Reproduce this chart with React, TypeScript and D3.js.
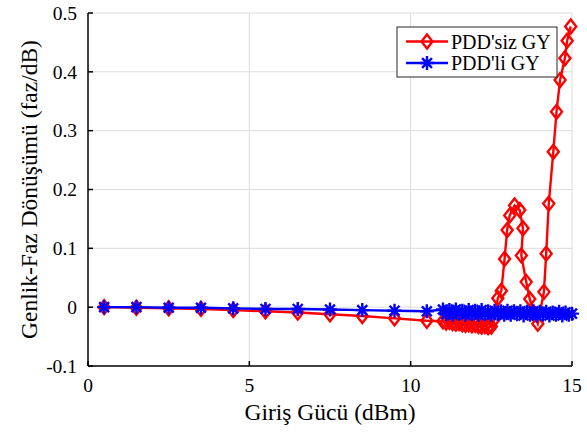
import React from "react";
import * as d3 from "d3";

// 1 dBm steps at low input power
const xCoarse = [0.5, 1.5, 2.5, 3.5, 4.5, 5.5, 6.5, 7.5, 8.5, 9.5, 10.5];
const redCoarse = [0.0, -0.001, -0.002, -0.003, -0.005, -0.007, -0.009, -0.012, -0.015, -0.019, -0.023];
const blueCoarse = [0.0, 0.0, -0.001, -0.001, -0.002, -0.003, -0.003, -0.004, -0.005, -0.006, -0.007];

// dense region, PDD'siz GY
const xRedDense = [
  11.0, 11.1, 11.2, 11.3, 11.4, 11.5, 11.6, 11.7, 11.8, 11.9, 12.0, 12.1, 12.2, 12.3, 12.4, 12.5,
  12.6, 12.7, 12.81, 12.91, 12.99, 13.07, 13.22, 13.38, 13.48, 13.43, 13.58, 13.69, 13.82, 13.94,
  14.13, 14.2, 14.28, 14.42, 14.52, 14.63, 14.78, 14.85, 14.96,
];
const redDense = [
  -0.024, -0.026, -0.025, -0.027, -0.028, -0.027, -0.029, -0.03, -0.029, -0.031, -0.03, -0.032, -0.033, -0.032, -0.034, -0.033,
  -0.02, 0.015, 0.028, 0.082, 0.131, 0.156, 0.173, 0.165, 0.134, 0.088, 0.043, 0.014, -0.01, -0.028,
  0.026, 0.091, 0.176, 0.264, 0.332, 0.386, 0.423, 0.453, 0.477,
];

// dense region, PDD'li GY
const xBlueDense = [
  11.0, 11.1, 11.2, 11.3, 11.4, 11.5, 11.6, 11.7, 11.8, 11.9, 12.0, 12.1, 12.2, 12.3, 12.4, 12.5,
  12.6, 12.7, 12.8, 12.9, 13.0, 13.1, 13.2, 13.3, 13.4, 13.5, 13.6, 13.7, 13.8, 13.9, 14.0, 14.1,
  14.2, 14.3, 14.4, 14.5, 14.6, 14.7, 14.8, 14.9, 15.0,
];
const blueDense = [
  -0.004, -0.012, -0.005, -0.013, -0.004, -0.011, -0.006, -0.013, -0.005, -0.012, -0.006, -0.013, -0.005, -0.012, -0.007, -0.013,
  -0.006, -0.012, -0.007, -0.013, -0.006, -0.013, -0.007, -0.012, -0.007, -0.014, -0.008, -0.013, -0.007, -0.014, -0.008, -0.013,
  -0.008, -0.014, -0.009, -0.013, -0.008, -0.014, -0.009, -0.013, -0.011,
];

const xTicks = [0, 5, 10, 15];
const yTicks = [-0.1, 0, 0.1, 0.2, 0.3, 0.4, 0.5];
const seriesNames = ["PDD'siz GY", "PDD'li GY"];
const colors = ["#ff0000", "#0000ff"];

const FONT = "Liberation Serif";

const left = 88;
const right = 572;
const top = 13;
const bottom = 366;

const x = d3.scaleLinear().domain([0, 15]).range([left, right]);
const y = d3.scaleLinear().domain([-0.1, 0.5]).range([bottom, top]);

const red = xCoarse.map((v, i) => [v, redCoarse[i]]).concat(xRedDense.map((v, i) => [v, redDense[i]]));
const blue = xCoarse.map((v, i) => [v, blueCoarse[i]]).concat(xBlueDense.map((v, i) => [v, blueDense[i]]));

const line = d3
  .line<number[]>()
  .x((d) => x(d[0]))
  .y((d) => y(d[1]));

const diamondPath = (cx: number, cy: number) =>
  `M${cx},${cy - 7}L${cx + 5.5},${cy}L${cx},${cy + 7}L${cx - 5.5},${cy}Z`;

const starPath = (cx: number, cy: number) => {
  const r = 7;
  const d = r * Math.SQRT1_2;
  return (
    `M${cx - r},${cy}H${cx + r}M${cx},${cy - r}V${cy + r}` +
    `M${cx - d},${cy - d}L${cx + d},${cy + d}M${cx - d},${cy + d}L${cx + d},${cy - d}`
  );
};

// plain hyphen for negatives, like the original
const fmtY = (v: number) => (v === 0 ? "0" : v.toFixed(1));

const App = () => {
  const sw = 2.4;
  return (
    <svg width={587} height={433} style={{ position: "absolute", left: 0, top: 0, background: "#fff", fontFamily: FONT }}>
      {/* grid */}
      <g stroke="#dcdcdc" strokeWidth={1}>
        {xTicks.slice(1).map((t) => (
          <line key={"gx" + t} x1={x(t)} x2={x(t)} y1={top} y2={bottom} />
        ))}
        {yTicks.slice(1).map((t) => (
          <line key={"gy" + t} x1={left} x2={right} y1={y(t)} y2={y(t)} />
        ))}
      </g>

      {/* series */}
      <path d={line(red) || ""} fill="none" stroke={colors[0]} strokeWidth={sw} />
      {red.map((d, i) => (
        <path key={"r" + i} d={diamondPath(x(d[0]), y(d[1]))} fill="none" stroke={colors[0]} strokeWidth={sw} />
      ))}
      <path d={line(blue) || ""} fill="none" stroke={colors[1]} strokeWidth={sw} />
      {blue.map((d, i) => (
        <path key={"b" + i} d={starPath(x(d[0]), y(d[1]))} fill="none" stroke={colors[1]} strokeWidth={sw} />
      ))}

      {/* axes */}
      <g stroke="#000" strokeWidth={1.5}>
        <line x1={left} x2={right} y1={bottom} y2={bottom} />
        <line x1={left} x2={left} y1={top} y2={bottom} />
        {xTicks.map((t) => (
          <line key={"tx" + t} x1={x(t)} x2={x(t)} y1={bottom} y2={bottom - 5} />
        ))}
        {yTicks.map((t) => (
          <line key={"ty" + t} x1={left} x2={left + 5} y1={y(t)} y2={y(t)} />
        ))}
      </g>
      {xTicks.map((t) => (
        <text key={"lx" + t} x={x(t)} y={bottom + 26} textAnchor="middle" style={{ fontFamily: FONT, fontSize: "19.5px" }}>
          {String(t)}
        </text>
      ))}
      {yTicks.map((t) => (
        <text key={"ly" + t} x={left - 11} y={y(t)} dy="0.35em" textAnchor="end" style={{ fontFamily: FONT, fontSize: "19.5px" }}>
          {fmtY(t)}
        </text>
      ))}

      <text x={x(7.5)} y={420} textAnchor="middle" style={{ fontFamily: FONT, fontSize: "23.5px" }}>
        Giriş Gücü (dBm)
      </text>
      <text
        transform={`translate(37,${y(0.2)}) rotate(-90)`}
        textAnchor="middle"
        style={{ fontFamily: FONT, fontSize: "23.5px" }}
      >
        Genlik-Faz Dönüşümü (faz/dB)
      </text>

      {/* legend */}
      <rect x={397} y={27} width={160} height={50} fill="#fff" stroke="#262626" strokeWidth={1} />
      {seriesNames.map((name, i) => {
        const cy = 41.5 + i * 21.5;
        return (
          <g key={name}>
            <line x1={406} x2={448} y1={cy} y2={cy} stroke={colors[i]} strokeWidth={sw} />
            <path d={i === 0 ? diamondPath(427, cy) : starPath(427, cy)} fill="none" stroke={colors[i]} strokeWidth={sw} />
            <text x={451} y={cy} dy="0.35em" style={{ fontFamily: FONT, fontSize: "20px" }}>
              {name}
            </text>
          </g>
        );
      })}
    </svg>
  );
};

export default App;
